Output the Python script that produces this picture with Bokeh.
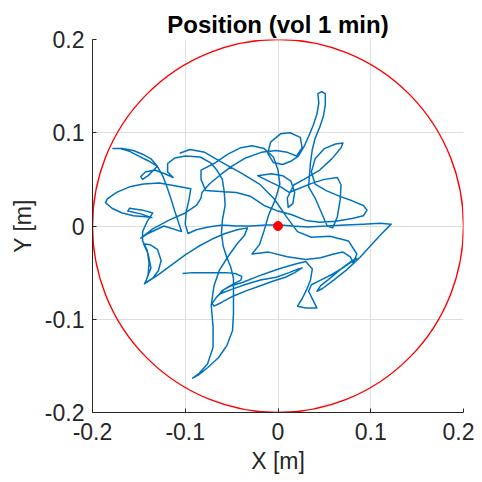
from bokeh.plotting import figure
from bokeh.models import Range1d, FixedTicker
from bokeh.embed import file_html
from bokeh.resources import INLINE

# trajectory (x, y) in metres
track_xy = [
    (-0.103,-0.051),(-0.092,-0.050),(-0.080,-0.050),(-0.068,-0.050),(-0.056,-0.050),(-0.046,-0.051),
    (-0.039,-0.054),(-0.040,-0.058),(-0.048,-0.062),(-0.058,-0.068),(-0.066,-0.076),(-0.071,-0.083),
    (-0.069,-0.086),(-0.061,-0.082),(-0.048,-0.075),(-0.033,-0.069),(-0.019,-0.064),(-0.005,-0.059),
    (0.008,-0.055),(0.018,-0.050),(0.026,-0.045),(0.022,-0.046),(0.012,-0.050),(-0.002,-0.055),
    (-0.019,-0.058),(-0.036,-0.063),(-0.050,-0.068),(-0.063,-0.073),(-0.060,-0.069),(-0.050,-0.064),
    (-0.037,-0.060),(-0.022,-0.054),(-0.008,-0.049),(0.004,-0.045),(0.018,-0.041),(0.030,-0.038),
    (0.037,-0.046),(0.035,-0.058),(0.031,-0.068),(0.026,-0.078),(0.021,-0.086),(0.030,-0.088),
    (0.042,-0.088),(0.038,-0.080),(0.033,-0.070),(0.036,-0.063),(0.046,-0.058),(0.058,-0.052),
    (0.070,-0.045),(0.080,-0.038),(0.085,-0.035),(0.080,-0.037),(0.068,-0.046),(0.055,-0.057),
    (0.046,-0.064),(0.042,-0.070),(0.048,-0.067),(0.060,-0.058),(0.074,-0.047),(0.088,-0.034),
    (0.100,-0.021),(0.112,-0.008),(0.122,0.002),(0.110,0.003),(0.092,0.002),(0.072,0.001),
    (0.052,0.000),(0.032,-0.001),(0.015,0.000),(0.003,0.001),
    (-0.012,0.001),(-0.030,0.000),(-0.045,0.000),(-0.060,0.001),(-0.075,-0.001),(-0.088,-0.004),
    (-0.097,-0.008),(-0.100,0.002),(-0.099,0.015),(-0.096,0.028),(-0.094,0.040),
    (-0.110,0.043),(-0.128,0.046),(-0.145,0.045),(-0.160,0.042),(-0.174,0.036),(-0.184,0.029),
    (-0.186,0.025),(-0.179,0.019),(-0.168,0.014),(-0.156,0.011),(-0.143,0.010),(-0.136,0.009),
    (-0.148,0.013),(-0.162,0.016),(-0.160,0.019),(-0.146,0.017),(-0.135,0.014),
    (-0.141,0.005),(-0.146,-0.006),(-0.146,-0.016),(-0.141,-0.026),(-0.139,-0.040),(-0.140,-0.052),
    (-0.143,-0.061),(-0.135,-0.056),(-0.129,-0.048),(-0.126,-0.037),(-0.130,-0.025),(-0.138,-0.020),
    (-0.145,-0.019),(-0.140,-0.030),(-0.137,-0.045),(-0.142,-0.058),(-0.144,-0.062),
    (-0.130,-0.053),(-0.115,-0.042),(-0.100,-0.031),(-0.086,-0.022),(-0.071,-0.014),(-0.057,-0.008),
    (-0.044,-0.004),(-0.033,-0.002),
    (-0.036,-0.010),(-0.044,-0.019),(-0.054,-0.033),(-0.063,-0.047),(-0.069,-0.064),(-0.072,-0.085),
    (-0.070,-0.108),(-0.070,-0.130),(-0.076,-0.148),(-0.085,-0.158),(-0.092,-0.163),(-0.086,-0.160),
    (-0.076,-0.152),(-0.064,-0.141),(-0.055,-0.128),(-0.049,-0.112),(-0.048,-0.094),(-0.048,-0.072),
    (-0.048,-0.056),(-0.051,-0.044),(-0.055,-0.034),(-0.059,-0.022),(-0.061,-0.008),(-0.060,0.006),
    (-0.057,0.022),(-0.058,0.037),(-0.060,0.050),(-0.066,0.060),(-0.073,0.068),(-0.084,0.074),
    (-0.100,0.075),(-0.111,0.073),(-0.119,0.067),(-0.119,0.058),(-0.113,0.052),
    (-0.122,0.056),(-0.133,0.060),(-0.143,0.058),(-0.148,0.053),(-0.146,0.050),(-0.140,0.054),
    (-0.130,0.064),(-0.140,0.070),(-0.150,0.075),(-0.160,0.080),(-0.170,0.083),(-0.178,0.083),
    (-0.168,0.083),(-0.156,0.081),(-0.146,0.077),(-0.137,0.072),(-0.130,0.064),(-0.124,0.053),
    (-0.119,0.040),(-0.115,0.028),(-0.111,0.015),(-0.107,0.003),(-0.104,-0.006),
    (-0.123,0.000),(-0.140,-0.008),(-0.148,-0.013),(-0.135,-0.003),(-0.118,0.006),(-0.100,0.014),
    (-0.088,0.022),(-0.083,0.030),
    (-0.082,0.036),(-0.074,0.045),(-0.062,0.055),(-0.050,0.064),(-0.035,0.073),(-0.018,0.079),
    (-0.002,0.081),(0.010,0.079),(0.020,0.075),
    (0.026,0.084),(0.024,0.095),(0.013,0.100),(0.003,0.099),(-0.008,0.090),(-0.011,0.078),
    (-0.005,0.068),(0.005,0.066),(0.015,0.070),(0.022,0.075),
    (0.028,0.085),(0.033,0.096),(0.038,0.108),(0.042,0.120),(0.044,0.132),(0.043,0.142),
    (0.047,0.144),(0.051,0.142),(0.051,0.130),(0.049,0.118),(0.045,0.106),(0.040,0.094),
    (0.037,0.082),(0.035,0.068),(0.034,0.055),(0.033,0.042),
    (0.040,0.030),(0.047,0.014),(0.053,0.000),(0.059,-0.002),(0.064,0.010),(0.067,0.028),
    (0.068,0.044),(0.064,0.052),(0.050,0.050),(0.037,0.046),(0.022,0.040),(0.012,0.036),
    (0.003,0.042),(-0.008,0.047),(-0.022,0.054),(-0.007,0.056),(0.005,0.054),(0.014,0.048),
    (0.018,0.036),(0.016,0.024),(0.011,0.020),(0.010,0.030),(0.017,0.044),(0.028,0.050),
    (0.045,0.060),(0.058,0.072),(0.068,0.084),(0.070,0.089),(0.062,0.088),(0.050,0.083),
    (0.040,0.072),(0.036,0.058),(0.040,0.045),(0.052,0.038),(0.066,0.032),(0.080,0.027),
    (0.092,0.022),(0.096,0.017),(0.092,0.011),(0.080,0.008),(0.062,0.005),(0.045,0.004),
    (0.030,0.006),
    (0.015,0.012),(0.000,0.016),(-0.015,0.022),(-0.030,0.032),(-0.045,0.036),(-0.062,0.037),
    (-0.078,0.038),(-0.083,0.050),(-0.083,0.060),(-0.069,0.067),(-0.054,0.077),(-0.040,0.084),
    (-0.028,0.086),(-0.015,0.083),(-0.005,0.074),(0.000,0.060),(0.002,0.045),(-0.003,0.028),
    (-0.010,0.012),(-0.015,-0.005),(-0.020,-0.020),(-0.028,-0.030),
    (-0.010,-0.028),(0.010,-0.033),(0.030,-0.036),(0.046,-0.034),(0.060,-0.030),(0.070,-0.028),
    (0.078,-0.033),(0.081,-0.040),(0.085,-0.030),(0.076,-0.016),(0.056,-0.011),(0.036,-0.012),
    (0.021,-0.006),(0.009,0.010),(-0.004,0.029),(-0.020,0.045),(-0.040,0.057),(-0.060,0.068),
    (-0.079,0.079),(-0.095,0.082),(-0.106,0.078),
]
track_x = [p[0] for p in track_xy]
track_y = [p[1] for p in track_xy]

boundary_radius = 0.2
origin_x = [0.0]
origin_y = [0.0]
tick_values = [-0.2, -0.1, 0.0, 0.1, 0.2]
tick_labels = {-0.2: "-0.2", -0.1: "-0.1", 0.0: "0", 0.1: "0.1", 0.2: "0.2"}

p = figure(width=474, height=482, output_backend="svg", toolbar_location=None,
           x_range=Range1d(-0.2, 0.2), y_range=Range1d(-0.2, 0.2),
           title="Position (vol 1 min)",
           min_border_left=92, min_border_right=11, min_border_top=39, min_border_bottom=70)

p.title.align = "center"
p.title.text_font = "Liberation Sans"
p.title.text_font_size = "24px"
p.title.text_font_style = "bold"
p.title.text_color = "black"
p.title.standoff = 4
p.outline_line_color = None
p.background_fill_color = "white"
p.border_fill_color = "white"

for ax in (p.xaxis, p.yaxis):
    ax.ticker = FixedTicker(ticks=tick_values)
    ax.major_label_overrides = tick_labels
    ax.major_label_text_font = "Liberation Sans"
    ax.major_label_text_font_size = "23px"
    ax.major_label_text_color = "#262626"
    ax.axis_label_text_font = "Liberation Sans"
    ax.axis_label_text_font_size = "23px"
    ax.axis_label_text_font_style = "normal"
    ax.axis_label_text_color = "#262626"
    ax.axis_line_color = "#262626"
    ax.major_tick_line_color = "#262626"
    ax.major_tick_in = 4
    ax.major_tick_out = 0
    ax.minor_tick_line_color = None

p.xaxis.axis_label = "X [m]"
p.yaxis.axis_label = "Y [m]"
p.xaxis.major_label_standoff = 10
p.yaxis.major_label_standoff = 8
p.xaxis.axis_label_standoff = 5
p.yaxis.axis_label_standoff = 6

for g in (p.xgrid, p.ygrid):
    g.ticker = FixedTicker(ticks=tick_values)
    g.grid_line_color = "#dedede"
    g.grid_line_width = 1

p.line(track_x, track_y, line_color="#0072BD", line_width=1.5, line_join="round")
p.ellipse(x=origin_x, y=origin_y, width=2 * boundary_radius, height=2 * boundary_radius,
          fill_color=None, line_color="#ff0000", line_width=1.4)
p.scatter(origin_x, origin_y, size=9, fill_color="#ff0000", line_color="#ff0000")

open("out.html", "w").write(file_html(p, INLINE))
